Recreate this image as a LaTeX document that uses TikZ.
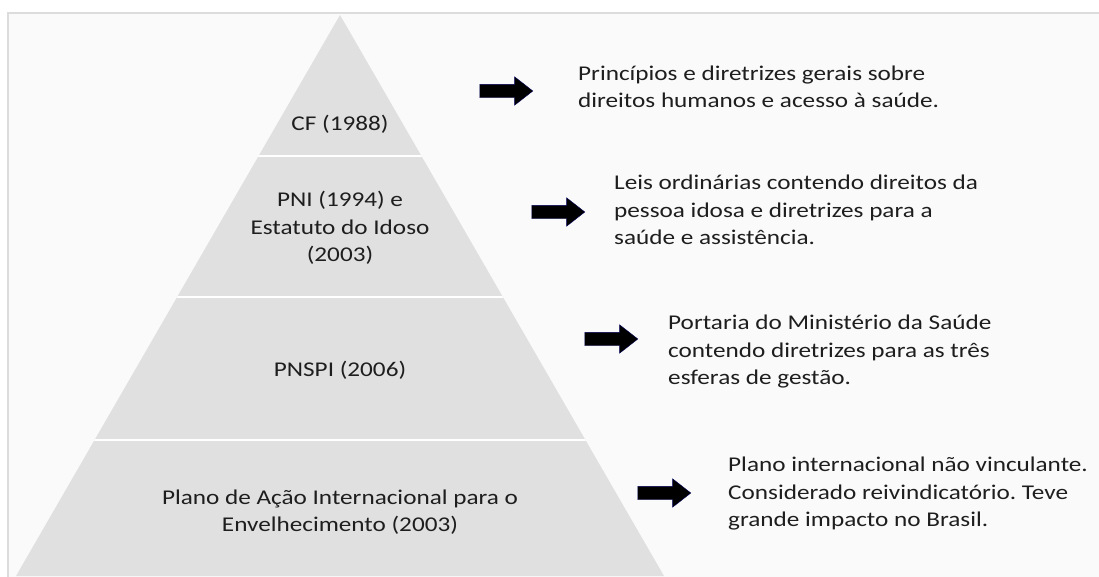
\documentclass[tikz,border=0pt]{standalone}
\usepackage{fontspec}
\setmainfont{Carlito}[FakeStretch=1.2]
\usetikzlibrary{shapes.arrows}
\definecolor{pyrgray}{HTML}{E0E0E0}
\definecolor{pagegray}{HTML}{FAFAFA}
\definecolor{framegray}{HTML}{DCDCDC}
\definecolor{txtgray}{HTML}{1E1E1E}
\frenchspacing

\begin{document}
\begin{tikzpicture} [x=1pt, y=-1pt,
 every node/.style = {inner sep=0pt, text=txtgray, font=\fontsize{21}{27.5}\selectfont},
 layer/.style = {align=center},
 note/.style = {align=left, anchor=west},
 blockarrow/.style = {shape=single arrow, fill=black, draw=black!65!blue,
 minimum height=53pt, inner xsep=0pt, inner ysep=6.5pt, single arrow head extend=7.5pt,
 single arrow tip angle=76}]
 \useasboundingbox (0,0) rectangle (1099,576);
 \fill [white] (0,0) rectangle (1099,576);
 \path [fill=pagegray, draw=framegray, line width=1.2pt] (8,13) rectangle (1110,590);

 % pyramid
 \fill [pyrgray] (340,15) -- (664,576) -- (16,576) -- cycle;
 \begin{scope}
 \clip (340,15) -- (664,576) -- (16,576) -- cycle;
 \foreach \y in {156,297,440}
 \draw [white, line width=2pt] (0,\y) -- (700,\y);
 \end{scope}

 \node (cf) [layer] at (340,124) {CF (1988)};
 \node (pni) [layer] at (340,228) {PNI (1994) e\\Estatuto do Idoso\\(2003)};
 \node (pnspi) [layer] at (340,370) {PNSPI (2006)};
 \node (plano) [layer] at (340,512) {Plano de Ação Internacional para o\\Envelhecimento (2003)};

 % arrows
 \node (a1) [blockarrow] at (502,91) {};
 \node (a2) [blockarrow] at (554,212) {};
 \node (a3) [blockarrow] at (607,339) {};
 \node (a4) [blockarrow] at (660,493) {};

 \node (t1) [note] at (578,87) {Princípios e diretrizes gerais sobre\\direitos humanos e acesso à saúde.};
 \node (t2) [note] at (614,210) {Leis ordinárias contendo direitos da\\pessoa idosa e diretrizes para a\\saúde e assistência.};
 \node (t3) [note] at (668,352) {Portaria do Ministério da Saúde\\contendo diretrizes para as três\\esferas de gestão.};
 \node (t4) [note] at (728,494) {Plano internacional não vinculante.\\Considerado reivindicatório. Teve\\grande impacto no Brasil.};
\end{tikzpicture}
\end{document}
